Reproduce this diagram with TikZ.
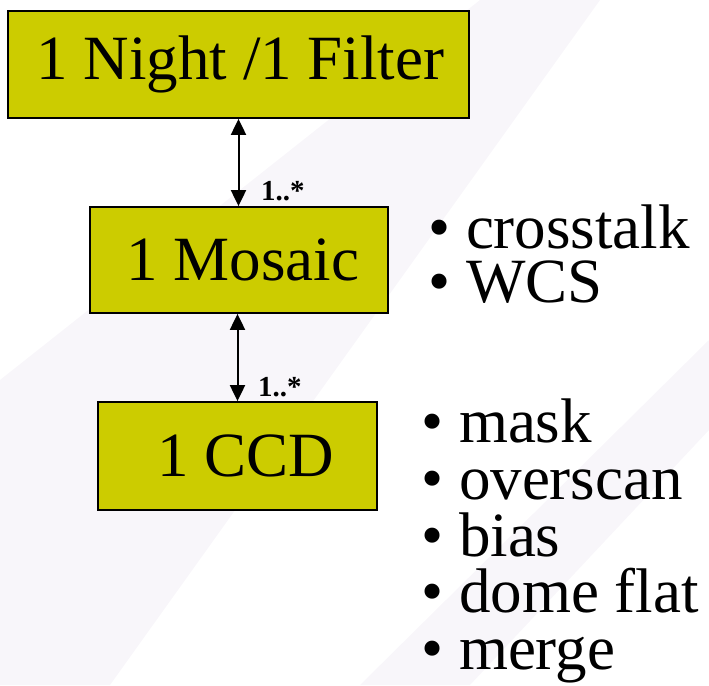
\documentclass[tikz,border=0pt]{standalone}
\usepackage{fontspec}
\setmainfont{Liberation Serif}
\usetikzlibrary{arrows.meta, calc}
\definecolor{boxolive}{RGB}{204,204,0}
\definecolor{bgstripe}{RGB}{248,246,250}

\begin{document}
\begin{tikzpicture}[x=1pt,y=-1pt,
    level/.style={draw=black, line width=1.8pt, fill=boxolive, inner sep=0pt, font=\fontsize{63}{70}\selectfont},
    mult/.style={font=\fontsize{29}{30}\selectfont\bfseries, inner sep=0pt},
    stepitem/.style={font=\fontsize{63}{70}\selectfont, inner sep=0pt, text height=40pt, text depth=10pt, anchor=base west},
    link/.style={line width=2pt, {Triangle[length=16pt,width=15pt]}-{Triangle[length=16pt,width=15pt]}}]
    \useasboundingbox (0,0) rectangle (709,685);
    \fill[bgstripe] (0,685) -- (0,380) -- (480,0) -- (600,0) -- (110,685) -- cycle;
    \fill[bgstripe] (360,685) -- (709,340) -- (709,430) -- (470,685) -- cycle;
    \node[level, minimum width=461pt, minimum height=107pt] (night) at (238.5,64.5) {\kern4pt1 Night /1 Filter};
    \node[level, minimum width=298pt, minimum height=106pt] (mosaic) at (239,260) {\kern8pt1 Mosaic};
    \node[level, minimum width=279pt, minimum height=108pt] (ccd) at (237.5,456) {\kern16pt\raisebox{-6pt}{1 CCD}};
    \draw[link] (night.south) -- (night.south |- mosaic.north);
    \draw[link] (ccd.north |- mosaic.south) -- (ccd.north);
    \node[mult, anchor=base west] (mult1) at (261,200) {1..*};
    \node[mult, anchor=base west] (mult2) at (258,396) {1..*};
    \foreach \t [count=\i] in {crosstalk, WCS}
      \node[stepitem] (mstep\i) at (428,194+54*\i) {• \t};
    \foreach \t [count=\i] in {mask, overscan, bias, dome flat, merge}
      \node[stepitem] (cstep\i) at (421,386+56.7*\i) {• \t};
\end{tikzpicture}
\end{document}
